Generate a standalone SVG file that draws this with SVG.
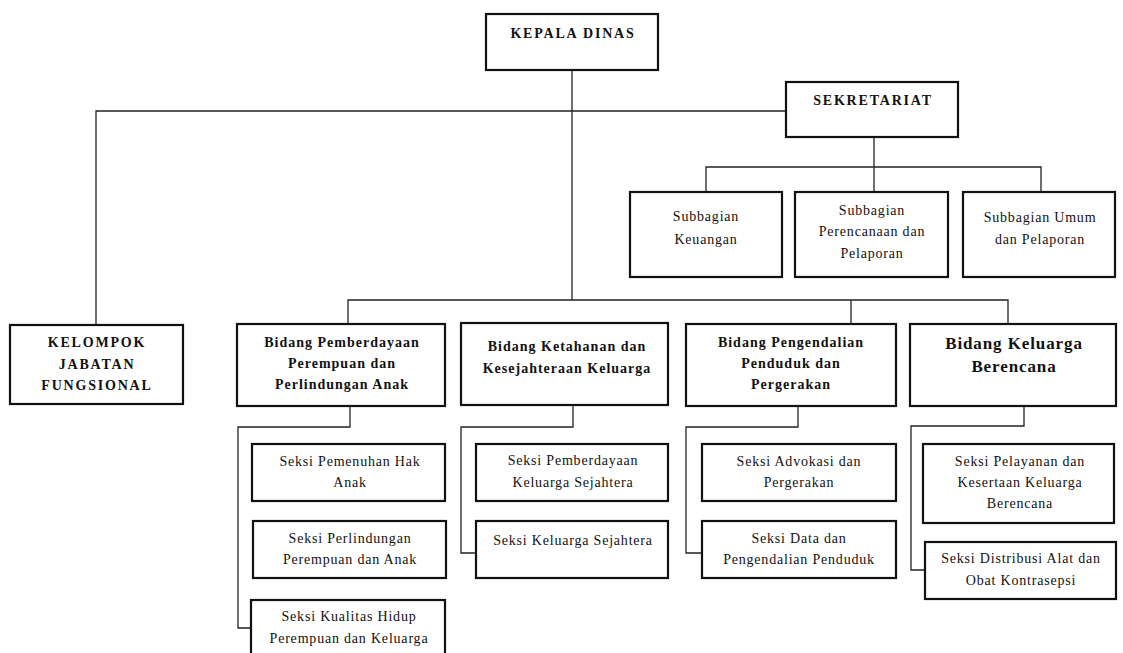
<svg xmlns="http://www.w3.org/2000/svg" width="1123" height="653" viewBox="0 0 1123 653">
<style>
.box{fill:#fff;stroke:#111;stroke-width:2.2}
.c{fill:none;stroke:#222;stroke-width:1.3}
text{font-family:"Liberation Serif","Times New Roman",serif;fill:#111;text-anchor:middle}
.b{font-weight:bold;font-size:14px;letter-spacing:1px}
.n{font-size:14px;letter-spacing:0.8px}
.big{font-weight:bold;font-size:17px;letter-spacing:0.9px}
.k{letter-spacing:1.8px}
</style>
<rect width="1123" height="653" fill="#fff"/>
<g id="connectors">
<polyline class="c" points="572,70 572,300"/>
<polyline class="c" points="786,111 96,111 96,325"/>
<polyline class="c" points="874,137 874,192"/>
<polyline class="c" points="706,192 706,167 1041,167 1041,192"/>
<polyline class="c" points="348,324 348,300 1008,300 1008,324"/>
<polyline class="c" points="851,300 851,324"/>
<polyline class="c" points="350,406 350,427 238,427 238,628 252,628"/>
<polyline class="c" points="573,405 573,427 461,427 461,553 476,553"/>
<polyline class="c" points="798,406 798,427 686,427 686,553 702,553"/>
<polyline class="c" points="1024,406 1024,426 911,426 911,570 925,570"/>
</g>
<g id="kepala"><rect class="box" x="486" y="14" width="172" height="56"/><text class="b k" x="573" y="38">KEPALA DINAS</text></g>
<g id="sekretariat"><rect class="box" x="786" y="82" width="172" height="55"/><text class="b k" x="873" y="105">SEKRETARIAT</text></g>
<g id="sub-keuangan"><rect class="box" x="630" y="192" width="152" height="85"/><text class="n" x="706" y="221">Subbagian</text><text class="n" x="706" y="244">Keuangan</text></g>
<g id="sub-perencanaan"><rect class="box" x="795" y="192" width="153" height="85"/><text class="n" x="872" y="215">Subbagian</text><text class="n" x="872" y="236">Perencanaan dan</text><text class="n" x="872" y="258">Pelaporan</text></g>
<g id="sub-umum"><rect class="box" x="963" y="192" width="152" height="85"/><text class="n" x="1040" y="222">Subbagian Umum</text><text class="n" x="1040" y="244">dan Pelaporan</text></g>
<g id="kelompok"><rect class="box" x="10" y="325" width="173" height="79"/><text class="b k" x="97" y="347">KELOMPOK</text><text class="b k" x="97" y="369">JABATAN</text><text class="b k" x="97" y="390">FUNGSIONAL</text></g>
<g id="bidang-pppa"><rect class="box" x="237" y="324" width="208" height="82"/><text class="b" x="342" y="347">Bidang Pemberdayaan</text><text class="b" x="342" y="368">Perempuan dan</text><text class="b" x="342" y="389">Perlindungan Anak</text></g>
<g id="bidang-ketahanan"><rect class="box" x="461" y="323" width="207" height="82"/><text class="b" x="567" y="351">Bidang Ketahanan dan</text><text class="b" x="567" y="373">Kesejahteraan Keluarga</text></g>
<g id="bidang-pengendalian"><rect class="box" x="686" y="324" width="210" height="82"/><text class="b" x="791" y="347">Bidang Pengendalian</text><text class="b" x="791" y="368">Penduduk dan</text><text class="b" x="791" y="389">Pergerakan</text></g>
<g id="bidang-kb"><rect class="box" x="910" y="324" width="206" height="82"/><text class="big" x="1014" y="349">Bidang Keluarga</text><text class="big" x="1014" y="372">Berencana</text></g>
<g id="seksi-pemenuhan"><rect class="box" x="252" y="444" width="193" height="57"/><text class="n" x="350" y="466">Seksi Pemenuhan Hak</text><text class="n" x="350" y="487">Anak</text></g>
<g id="seksi-perlindungan"><rect class="box" x="253" y="521" width="193" height="57"/><text class="n" x="350" y="543">Seksi Perlindungan</text><text class="n" x="350" y="564">Perempuan dan Anak</text></g>
<g id="seksi-kualitas"><rect class="box" x="251" y="600" width="194" height="60"/><text class="n" x="349" y="621">Seksi Kualitas Hidup</text><text class="n" x="349" y="643">Perempuan dan Keluarga</text></g>
<g id="seksi-pemberdayaan"><rect class="box" x="476" y="444" width="192" height="57"/><text class="n" x="573" y="465">Seksi Pemberdayaan</text><text class="n" x="573" y="487">Keluarga Sejahtera</text></g>
<g id="seksi-keluarga"><rect class="box" x="476" y="521" width="192" height="57"/><text class="n" x="573" y="545">Seksi Keluarga Sejahtera</text></g>
<g id="seksi-advokasi"><rect class="box" x="702" y="444" width="194" height="57"/><text class="n" x="799" y="466">Seksi Advokasi dan</text><text class="n" x="799" y="487">Pergerakan</text></g>
<g id="seksi-data"><rect class="box" x="702" y="521" width="194" height="57"/><text class="n" x="799" y="543">Seksi Data dan</text><text class="n" x="799" y="564">Pengendalian Penduduk</text></g>
<g id="seksi-pelayanan"><rect class="box" x="923" y="444" width="191" height="79"/><text class="n" x="1020" y="466">Seksi Pelayanan dan</text><text class="n" x="1020" y="487">Kesertaan Keluarga</text><text class="n" x="1020" y="508">Berencana</text></g>
<g id="seksi-distribusi"><rect class="box" x="925" y="542" width="191" height="57"/><text class="n" x="1021" y="563">Seksi Distribusi Alat dan</text><text class="n" x="1021" y="585">Obat Kontrasepsi</text></g>
</svg>
